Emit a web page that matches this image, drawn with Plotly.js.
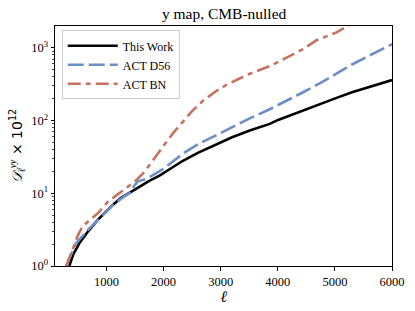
<!DOCTYPE html>
<html><head><meta charset="utf-8">
<script src="https://cdn.plot.ly/plotly-3.0.1.min.js"></script>
<style>html,body{margin:0;padding:0;background:#fff}#plot{width:415px;height:311px}</style>
</head><body><div id="plot"></div>
<script>
var ellWork = [351, 420, 526, 680, 848, 1000, 1111, 1250, 1433, 1544, 1750, 1930, 2150, 2339, 2600, 2924, 3200, 3509, 3860, 4006, 4250, 4444, 4750, 5029, 5300, 5614, 5800, 6000];
var dWork   = [1.0, 1.45, 2.05, 3.0, 4.3, 5.7, 6.9, 8.6, 10.5, 12.0, 14.8, 17.5, 22.5, 28, 36, 47, 59, 73, 90, 102, 121, 137, 168, 205, 245, 290, 322, 360];

var ellD56 = [293, 380, 468, 672, 848, 1111, 1300, 1433, 1480, 1550, 1667, 1800, 1988, 2339, 2600, 2924, 3200, 3509, 3860, 4006, 4444, 4750, 5029, 5300, 5614, 5800, 6000];
var dD56   = [1.0, 1.41, 2.05, 3.1, 4.3, 6.9, 8.9, 10.3, 12.5, 14.6, 15.5, 17.5, 21.4, 35, 47, 63, 82, 107, 143, 163, 245, 330, 440, 590, 790, 940, 1120];

var ellBN = [300, 409, 497, 580, 700, 850, 1023, 1200, 1345, 1500, 1667, 1830, 1988, 2160, 2339, 2500, 2700, 2924, 3100, 3300, 3509, 3860, 4006, 4250, 4444, 4678, 5029, 5210, 5400];
var dBN   = [1.0, 1.66, 2.6, 3.5, 4.2, 5.3, 7.6, 9.7, 11.7, 14.6, 19.7, 29, 43.5, 66, 98, 135, 190, 255, 310, 370, 440, 560, 634, 800, 960, 1270, 1630, 1990, 2400];

var yTickVals = [1, 10, 100, 1000];
var yTickText = ['10<sup>0</sup>', '10<sup>1</sup>', '10<sup>2</sup>', '10<sup>3</sup>'];
var xTickVals = [1000, 2000, 3000, 4000, 5000, 6000];

var minorVals = [];
[1, 10, 100, 1000].forEach(function(d){ for (var k = 2; k <= 9; k++) minorVals.push(k*d); });

var serif = 'Liberation Serif, Times New Roman, serif';

var traces = [
  {x: ellWork, y: dWork, name: 'This Work', mode: 'lines', line: {color: '#000000', width: 2.6}},
  {x: ellD56, y: dD56, name: 'ACT D56', mode: 'lines', line: {color: '#6b8fc6', width: 2.6, dash: '16px,5px'}},
  {x: ellBN, y: dBN, name: 'ACT BN', mode: 'lines', line: {color: '#c5735e', width: 2.6, dash: '13px,5px,5px,5px'}}
];

var layout = {
  width: 415, height: 311,
  margin: {l: 55, r: 23, t: 26, b: 45},
  paper_bgcolor: '#fff', plot_bgcolor: '#fff',
  font: {family: serif, size: 12, color: '#000'},
  showlegend: true,
  title: {text: 'y map, CMB-nulled', font: {family: serif, size: 15.5, color: '#000'}, x: 0.54, xanchor: 'center', y: 0.955, yanchor: 'middle'},
  xaxis: {
    range: [100, 6000], tickmode: 'array', tickvals: xTickVals,
    showgrid: false, zeroline: false, showline: true, linecolor: '#000', linewidth: 1, mirror: true,
    ticks: 'outside', ticklen: 3.5, tickwidth: 1, tickcolor: '#000',
    tickfont: {family: serif, size: 12.5},
    title: {text: '<i>ℓ</i>', font: {family: serif, size: 16}, standoff: 1}
  },
  yaxis: {
    type: 'log', range: [0, 3.3], tickmode: 'array', tickvals: yTickVals, ticktext: yTickText,
    showgrid: false, zeroline: false, showline: true, linecolor: '#000', linewidth: 1, mirror: true,
    ticks: 'outside', ticklen: 3.5, tickwidth: 1, tickcolor: '#000',
    tickfont: {family: serif, size: 12.5},
    minor: {tickmode: 'array', tickvals: minorVals, ticks: 'outside', ticklen: 2, tickwidth: 0.7, tickcolor: '#000', showgrid: false},
    title: {text: '<i>𝒟</i><sub><i>ℓ</i></sub><sup><i>yy</i></sup><span style="font-family:DejaVu Sans"> × 10<sup>12</sup></span>', font: {family: serif, size: 14}, standoff: 5}
  },
  legend: {
    x: 0.02, y: 0.982, xanchor: 'left', yanchor: 'top',
    bgcolor: 'rgba(255,255,255,0.85)', bordercolor: '#cccccc', borderwidth: 1,
    font: {family: serif, size: 12}, tracegroupgap: 0, itemwidth: 50
  }
};

Plotly.newPlot('plot', traces, layout, {displayModeBar: false, staticPlot: true});
</script></body></html>
